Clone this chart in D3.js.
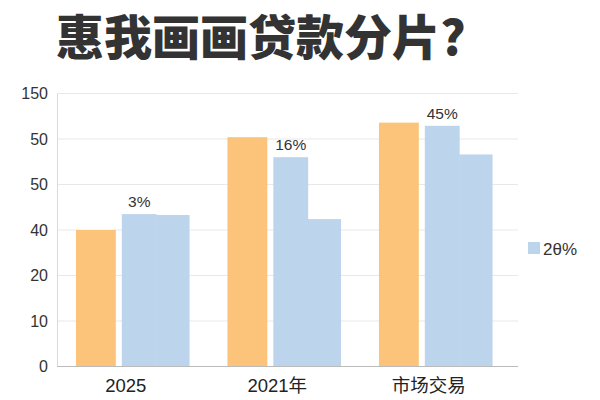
<!DOCTYPE html>
<html><head><meta charset="utf-8">
<script src="https://cdn.jsdelivr.net/npm/d3@7"></script>
<style>body{margin:0;background:#fff}svg{display:block}</style>
</head><body><svg id="c" width="600" height="400"></svg>
<script>
const title = "惠我画画贷款分片?";
const categories = ["2025", "2021年", "市场交易"];
const seriesNames = ["a", "b", "c"];
const seriesA = [30.0, 50.4, 53.6];
const seriesB = [33.5, 46.0, 52.9];
const seriesC = [33.3, 32.4, 46.6];
const valueLabels = ["3%", "16%", "45%"];
const yTickValues = [0, 10, 20, 30, 40, 50, 60];
const yTickLabels = ["0", "10", "20", "40", "50", "50", "150"];
const legendLabel = "2θ%";

const svg = d3.select("#c");
const cjk = "'Noto Sans CJK SC',sans-serif";
const font = "'Liberation Sans',Arial,'Noto Sans CJK SC',sans-serif";
const orange = "#FCC47B", blue = "#BDD5EC";

svg.append("text").attr("x", 56).attr("y", 55)
  .attr("font-family", cjk).attr("font-weight", 900).attr("font-size", 48)
  .attr("fill", "#333").text(title);

const y = d3.scaleLinear().domain([0, 60]).range([366.5, 93.5]);
const x = d3.scaleBand().domain(categories).range([57, 511.5]).paddingInner(0.25).paddingOuter(0.125);
const sub = d3.scaleBand().domain(seriesNames).range([0, x.bandwidth()]);

// grid
svg.append("g").selectAll("line").data(yTickValues.slice(1)).join("line")
  .attr("x1", 57).attr("x2", 518).attr("y1", d => y(d)).attr("y2", d => y(d))
  .attr("stroke", "#e8e8e8").attr("stroke-width", 1);

// y axis
const ya = svg.append("g").attr("transform", "translate(57,0)")
  .call(d3.axisLeft(y).tickValues(yTickValues).tickFormat((d, i) => yTickLabels[i]).tickSize(0).tickPadding(9));
ya.select(".domain").attr("stroke", "#d9d9d9");
ya.selectAll("text").attr("font-family", font).attr("font-size", 16).attr("fill", "#333");

const bw = sub.bandwidth();
const rows = categories.map((c, i) => ({c, a: seriesA[i], b: seriesB[i], cc: seriesC[i], lab: valueLabels[i]}));
const g = svg.append("g");
g.selectAll(".ra").data(rows).join("rect")
  .attr("x", d => x(d.c) + sub("a")).attr("width", bw + 2)
  .attr("y", d => y(d.a)).attr("height", d => y(0) - y(d.a)).attr("fill", orange);
g.selectAll(".rb").data(rows).join("rect")
  .attr("x", d => x(d.c) + sub("b") + 8).attr("width", bw - 3)
  .attr("y", d => y(d.b)).attr("height", d => y(0) - y(d.b)).attr("fill", blue);
g.selectAll(".rc").data(rows).join("rect")
  .attr("x", d => x(d.c) + sub("c") + 4.5).attr("width", bw - 4.5)
  .attr("y", d => y(d.cc)).attr("height", d => y(0) - y(d.cc)).attr("fill", blue);
g.selectAll(".lb").data(rows).join("text")
  .attr("x", d => x(d.c) + sub("b") + 8 + (bw - 3) / 2).attr("y", d => y(d.b) - 7)
  .attr("text-anchor", "middle").attr("font-family", font).attr("font-size", 15.5).attr("fill", "#333")
  .text(d => d.lab);

// x axis
const xa = svg.append("g").attr("transform", "translate(0,366.5)")
  .call(d3.axisBottom(x).tickSize(0).tickPadding(12));
xa.select(".domain").attr("stroke", "#bbb").attr("d", "M57,0H518");
xa.selectAll("text").attr("font-family", font).attr("font-size", 18.5).attr("fill", "#222")
  .attr("dx", -7);

// legend
svg.append("rect").attr("x", 528).attr("y", 242).attr("width", 12).attr("height", 12).attr("fill", blue);
svg.append("text").attr("x", 543).attr("y", 255).attr("font-family", font).attr("font-size", 17)
  .attr("fill", "#333").text(legendLabel);
</script></body></html>
